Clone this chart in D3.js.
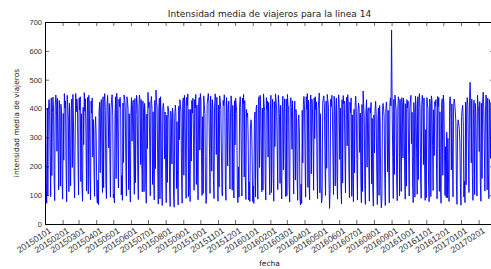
<!DOCTYPE html>
<html>
<head>
<meta charset="utf-8">
<script src="https://cdnjs.cloudflare.com/ajax/libs/d3/7.8.5/d3.min.js"></script>
<style>
  body { margin: 0; background: #fff; }
  svg { display: block; font-family: "DejaVu Sans", sans-serif; }
</style>
</head>
<body>
<div id="chart"></div>
<script>
// primer dia de la serie (un valor por dia a partir de aqui)
const inicio = '20150101';
const fin = '20170228';

// intensidad media de viajeros, diaria (lun..dom por fila)
const viajeros = [
  70, 305, 148, 72,
  402, 98, 396, 431, 412, 236, 95,
  437, 168, 386, 440, 402, 162, 81,
  409, 447, 423, 252, 436, 281, 118,
  428, 399, 131, 415, 392, 143, 86,
  383, 221, 452, 402, 427, 205, 77,
  446, 412, 367, 112, 419, 262, 132,
  397, 433, 196, 449, 356, 174, 90,
  308, 452, 389, 433, 410, 219, 101,
  437, 395, 441, 147, 382, 128, 79,
  404, 275, 455, 391, 434, 297, 114,
  372, 439, 104, 446, 401, 166, 84,
  426, 384, 437, 232, 362, 203, 96,
  331, 372, 303, 97, 72, 152, 67,
  388, 422, 178, 407, 431, 248, 109,
  441, 126, 426, 452, 393, 137, 88,
  413, 446, 381, 264, 418, 226, 93,
  398, 432, 448, 377, 91, 104, 73,
  374, 441, 157, 453, 426, 271, 125,
  432, 407, 439, 396, 101, 168, 82,
  419, 213, 447, 431, 408, 213, 97,
  441, 426, 398, 119, 382, 149, 76,
  386, 438, 287, 411, 429, 257, 103,
  435, 143, 376, 446, 417, 182, 85,
  402, 447, 428, 206, 431, 231, 111,
  426, 395, 112, 418, 374, 138, 72,
  381, 261, 456, 402, 423, 269, 98,
  417, 442, 399, 137, 389, 157, 83,
  428, 192, 464, 421, 406, 214, 69,
  395, 436, 87, 441, 371, 128, 64,
  402, 418, 391, 226, 388, 186, 74,
  377, 144, 408, 395, 362, 117, 61,
  391, 366, 208, 402, 378, 92, 58,
  369, 412, 387, 123, 355, 142, 66,
  408, 292, 431, 414, 386, 167, 72,
  418, 437, 169, 446, 413, 243, 89,
  439, 411, 451, 95, 397, 141, 78,
  397, 218, 428, 384, 436, 278, 117,
  431, 402, 449, 137, 412, 176, 84,
  416, 438, 256, 452, 428, 233, 99,
  372, 106, 444, 409, 383, 131, 71,
  96, 415, 437, 452, 421, 262, 106,
  443, 398, 183, 431, 402, 154, 88,
  406, 451, 427, 241, 439, 208, 79,
  412, 128, 444, 426, 397, 246, 102,
  97, 428, 411, 448, 419, 139, 82,
  438, 404, 201, 395, 426, 287, 121,
  385, 444, 419, 117, 411, 173, 90,
  427, 274, 436, 412, 383, 121, 74,
  198, 93, 412, 441, 403, 228, 97,
  436, 417, 449, 163, 428, 159, 85,
  397, 372, 384, 301, 83, 146, 78,
  336, 361, 344, 236, 78, 132, 71,
  362, 388, 94, 401, 412, 197, 86,
  427, 441, 196, 446, 408, 254, 112,
  402, 118, 451, 417, 389, 148, 83,
  438, 397, 426, 232, 421, 237, 101,
  391, 446, 109, 381, 432, 172, 79,
  424, 268, 451, 429, 396, 268, 119,
  446, 417, 383, 141, 411, 153, 87,
  407, 443, 187, 396, 434, 221, 95,
  433, 98, 449, 413, 402, 136, 76,
  419, 438, 404, 259, 427, 243, 104,
  381, 426, 152, 397, 368, 161, 82,
  352, 378, 322, 92, 66, 138, 71,
  394, 212, 415, 442, 406, 226, 93,
  441, 397, 452, 127, 429, 149, 84,
  412, 447, 174, 433, 401, 279, 117,
  437, 296, 441, 396, 423, 183, 88,
  398, 428, 454, 108, 382, 132, 73,
  94, 418, 436, 444, 409, 212, 99,
  426, 193, 449, 428, 414, 164, 54,
  118, 432, 407, 446, 391, 238, 102,
  443, 414, 132, 389, 437, 171, 86,
  392, 448, 419, 224, 402, 129, 69,
  431, 142, 445, 417, 426, 255, 108,
  409, 439, 271, 448, 413, 188, 91,
  422, 386, 437, 96, 378, 143, 77,
  397, 177, 412, 443, 391, 224, 83,
  386, 419, 402, 248, 384, 156, 74,
  414, 113, 461, 409, 372, 133, 68,
  392, 431, 197, 386, 403, 197, 79,
  403, 384, 421, 139, 366, 121, 62,
  378, 246, 396, 425, 381, 174, 67,
  364, 402, 99, 411, 352, 112, 56,
  87, 392, 418, 399, 371, 158, 64,
  401, 423, 386, 181, 394, 189, 73,
  416, 437, 409, 672, 421, 231, 88,
  432, 172, 447, 419, 398, 146, 81,
  398, 441, 426, 97, 432, 267, 113,
  438, 412, 229, 436, 409, 177, 86,
  417, 131, 431, 402, 426, 234, 97,
  403, 426, 446, 278, 387, 139, 74,
  421, 386, 93, 443, 412, 249, 103,
  441, 154, 427, 452, 404, 163, 89,
  409, 446, 413, 206, 437, 218, 82,
  327, 91, 438, 419, 396, 142, 77,
  433, 418, 95, 444, 426, 273, 116,
  396, 237, 424, 408, 431, 186, 87,
  442, 407, 438, 113, 389, 127, 72,
  413, 434, 169, 447, 418, 241, 99,
  268, 92, 318, 90, 297, 163, 78,
  428, 441, 409, 187, 416, 226, 94,
  407, 433, 418, 391, 352, 134, 68,
  338, 361, 347, 332, 281, 126, 65,
  372, 398, 411, 356, 94, 148, 74,
  423, 136, 402, 438, 411, 258, 109,
  438, 491, 427, 212, 433, 167, 82,
  401, 429, 102, 418, 387, 236, 97,
  446, 412, 391, 251, 424, 142, 79,
  418, 158, 426, 457, 402, 271, 114,
  392, 447, 413, 118, 436, 181, 88,
  431, 409, 227, 421, 396, 223, 93,
  427, 443
];

const xTicks = ['20150101', '20150201', '20150301', '20150401', '20150501', '20150601',
  '20150701', '20150801', '20150901', '20151001', '20151101', '20151201',
  '20160101', '20160201', '20160301', '20160401', '20160501', '20160601',
  '20160701', '20160801', '20160901', '20161001', '20161101', '20161201',
  '20170101', '20170201'];
const yTicks = [0, 100, 200, 300, 400, 500, 600, 700];

const titulo = 'Intensidad media de viajeros para la linea 14';
const xLabel = 'fecha';
const yLabel = 'intensidad media de viajeros';

const W = 491, H = 269;
const margin = { top: 22, right: -3, bottom: 45, left: 45 };
const iw = W - margin.left - margin.right;
const ih = H - margin.top - margin.bottom;

const parse = d3.utcParse('%Y%m%d');
const t0 = parse(inicio);
const data = viajeros.map((v, i) => ({ fecha: d3.utcDay.offset(t0, i), v }));

const x = d3.scaleUtc().domain([t0, parse(fin)]).range([0, iw]);
const y = d3.scaleLinear().domain([0, 700]).range([ih, 0]);

const svg = d3.select('#chart').append('svg')
  .attr('width', W).attr('height', H);

const g = svg.append('g').attr('transform', `translate(${margin.left},${margin.top})`);

svg.append('defs').append('clipPath').attr('id', 'clip')
  .append('rect').attr('width', iw).attr('height', ih);

g.append('path')
  .datum(data)
  .attr('clip-path', 'url(#clip)')
  .attr('fill', 'none')
  .attr('stroke', '#0000ff')
  .attr('stroke-width', 0.9)
  .attr('d', d3.line().x(d => x(d.fecha)).y(d => y(d.v)));

const tickDates = xTicks.map(parse);

// ejes (ticks hacia dentro, estilo matplotlib clasico)
const xAxis = g.append('g').attr('transform', `translate(0,${ih})`)
  .call(d3.axisBottom(x).tickValues(tickDates).tickSizeInner(-4).tickSizeOuter(0)
    .tickFormat((d, i) => xTicks[i]));
xAxis.selectAll('text')
  .attr('font-size', 8.7)
  .attr('fill', '#333')
  .attr('text-anchor', 'end')
  .attr('transform', 'rotate(-33)')
  .attr('dx', '0.1em')
  .attr('dy', '0.85em')
  .attr('y', 3)
  .attr('x', 0);

g.append('g')
  .call(d3.axisTop(x).tickValues(tickDates).tickSizeInner(-4).tickSizeOuter(0).tickFormat(''));

const yAxis = g.append('g')
  .call(d3.axisLeft(y).tickValues(yTicks).tickSizeInner(-4).tickSizeOuter(0));
yAxis.selectAll('text').attr('font-size', 7.5).attr('fill', '#333').attr('x', -3);

g.append('g').attr('transform', `translate(${iw},0)`)
  .call(d3.axisRight(y).tickValues(yTicks).tickSizeInner(-4).tickSizeOuter(0).tickFormat(''));

g.selectAll('.domain').attr('stroke', '#000').attr('stroke-width', 1);
g.selectAll('.tick line').attr('stroke', '#000').attr('stroke-width', 0.6);

svg.append('text')
  .attr('x', margin.left + iw / 2).attr('y', 17)
  .attr('text-anchor', 'middle')
  .attr('font-size', 9).attr('fill', '#222')
  .text(titulo);

svg.append('text')
  .attr('x', margin.left + iw / 2).attr('y', 266)
  .attr('text-anchor', 'middle')
  .attr('font-size', 7.5).attr('fill', '#222')
  .text(xLabel);

svg.append('text')
  .attr('transform', `translate(19,${margin.top + ih / 2}) rotate(-90)`)
  .attr('text-anchor', 'middle')
  .attr('font-size', 7.5).attr('fill', '#222')
  .text(yLabel);
</script>
</body>
</html>
